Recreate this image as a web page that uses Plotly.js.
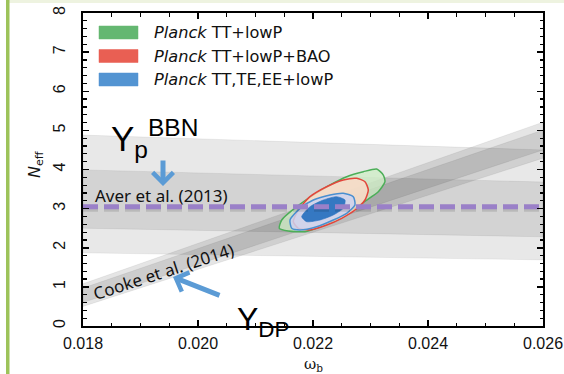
<!DOCTYPE html>
<html>
<head>
<meta charset="utf-8">
<script src="https://cdn.plot.ly/plotly-3.0.1.min.js"></script>
<style>
  html, body { margin: 0; padding: 0; background: #ffffff; }
  #chart { width: 564px; height: 374px; }
</style>
</head>
<body>
<div id="chart"></div>
<script>
// Baryon density range spanned by the band constraints
const bandW = [0.018, 0.026];

// Aver et al. (2013) helium constraint: N_eff edges at each end of bandW
const averOuterHi = [4.88, 4.50];
const averOuterLo = [1.87, 1.69];
const averInnerHi = [3.99, 3.68];
const averInnerLo = [2.50, 2.28];

// Cooke et al. (2014) deuterium constraint
const cookeOuterHi = [1.08, 5.21];
const cookeOuterLo = [0.50, 4.29];
const cookeInnerHi = [0.97, 5.01];
const cookeInnerLo = [0.60, 4.50];

// Planck contour outlines (omega_b, N_eff)
const greenOuterW = [0.021414, 0.021456, 0.021716, 0.022005, 0.022296, 0.022586, 0.022875, 0.023108, 0.023223, 0.023252, 0.023136, 0.022934, 0.022673, 0.022383, 0.022122, 0.021861, 0.021570];
const greenOuterN = [2.497, 2.709, 3.049, 3.348, 3.604, 3.816, 3.944, 4.013, 3.859, 3.688, 3.433, 3.220, 2.965, 2.709, 2.538, 2.410, 2.428];

const redOuterW = [0.021657, 0.021744, 0.021948, 0.022238, 0.022527, 0.022760, 0.022904, 0.022962, 0.022904, 0.022730, 0.022499, 0.022238, 0.021948, 0.021744];
const redOuterN = [2.666, 2.965, 3.305, 3.560, 3.732, 3.775, 3.688, 3.476, 3.220, 2.965, 2.753, 2.581, 2.454, 2.497];

const blueOuterW = [0.021600, 0.021774, 0.022005, 0.022296, 0.022527, 0.022701, 0.022730, 0.022586, 0.022353, 0.022064, 0.021774, 0.021630];
const blueOuterN = [2.709, 3.008, 3.220, 3.348, 3.392, 3.305, 3.093, 2.881, 2.709, 2.538, 2.454, 2.497];

const blueInnerW = [0.021803, 0.021948, 0.022179, 0.022412, 0.022557, 0.022527, 0.022353, 0.022122, 0.021890];
const blueInnerN = [2.794, 3.049, 3.220, 3.305, 3.220, 3.008, 2.837, 2.709, 2.666];

// Standard-model value of N_eff
const nEffStandard = 3.046;

// Axis ticks
const xTickVals = [0.018, 0.020, 0.022, 0.024, 0.026];
const xTickText = ['0.018', '0.020', '0.022', '0.024', '0.026'];
const yTickVals = [0, 1, 2, 3, 4, 5, 6, 7, 8];

// Legend entries
const legendLabels = ['TT+lowP', 'TT+lowP+BAO', 'TT,TE,EE+lowP'];
const legendColors = ['#5cb46a', '#e8574a', '#4a8fd0'];

function band(hi, lo, fill) {
  return {
    type: 'scatter', mode: 'lines',
    x: [bandW[0], bandW[1], bandW[1], bandW[0], bandW[0]],
    y: [hi[0], hi[1], lo[1], lo[0], hi[0]],
    fill: 'toself', fillcolor: fill,
    line: { color: 'rgba(0,0,0,0.06)', width: 1 },
    hoverinfo: 'skip', showlegend: false
  };
}

function contour(w, n, fill, lineColor, lineWidth) {
  return {
    type: 'scatter', mode: 'lines',
    x: w.concat([w[0]]), y: n.concat([n[0]]),
    fill: 'toself', fillcolor: fill,
    line: { color: lineColor, width: lineWidth, shape: 'spline', smoothing: 0.6 },
    hoverinfo: 'skip', showlegend: false
  };
}

const traces = [
  band(averOuterHi, averOuterLo, 'rgba(0,0,0,0.09)'),
  band(averInnerHi, averInnerLo, 'rgba(0,0,0,0.09)'),
  band(cookeOuterHi, cookeOuterLo, 'rgba(0,0,0,0.10)'),
  band(cookeInnerHi, cookeInnerLo, 'rgba(0,0,0,0.10)'),
  contour(greenOuterW, greenOuterN, 'rgba(205,238,196,0.75)', '#4cae58', 1.5),
  contour(redOuterW, redOuterN, 'rgba(252,218,200,0.8)', '#e2463c', 1.5),
  contour(blueOuterW, blueOuterN, 'rgba(204,210,240,0.85)', '#4a8fd0', 1.5),
  contour(blueInnerW, blueInnerN, 'rgba(44,115,192,0.95)', 'rgba(44,115,192,0.6)', 1),
  {
    type: 'scatter', mode: 'lines',
    x: bandW, y: [nEffStandard - 0.05, nEffStandard - 0.05],
    line: { color: 'rgba(0,0,0,0.12)', width: 6, dash: '15px,6px' },
    hoverinfo: 'skip', showlegend: false
  },
  {
    type: 'scatter', mode: 'lines',
    x: bandW, y: [nEffStandard, nEffStandard],
    line: { color: '#9a80c8', width: 5, dash: '15px,6px' },
    hoverinfo: 'skip', showlegend: false
  }
];

// Plot-area geometry in pixels, used to place the hand-drawn legend and labels
const L = 83, T = 13, W = 460, H = 313;
const px = v => (v - L) / W;
const py = v => (T + H - v) / H;

const shapes = [
  // slide frame
  { type: 'rect', xref: 'paper', yref: 'paper', x0: px(9), x1: px(564), y0: py(3), y1: py(0),
    fillcolor: '#eef3e0', line: { width: 0 }, layer: 'below' },
  { type: 'rect', xref: 'paper', yref: 'paper', x0: px(6), x1: px(9.5), y0: py(374), y1: py(0),
    fillcolor: '#9dc35a', line: { width: 0 }, layer: 'below' }
];
const annotations = [];
const rowY = [32.5, 56, 79.5];
legendLabels.forEach((lab, i) => {
  shapes.push({ type: 'rect', xref: 'paper', yref: 'paper',
    x0: px(99), x1: px(138), y0: py(rowY[i] + 6.5), y1: py(rowY[i] - 6.5),
    fillcolor: legendColors[i], line: { color: legendColors[i], width: 0.5 }, opacity: 0.95 });
  annotations.push({ xref: 'paper', yref: 'paper', x: px(152), y: py(rowY[i]),
    xanchor: 'left', yanchor: 'middle', showarrow: false,
    text: '<i>Planck</i> ' + lab,
    font: { family: 'DejaVu Sans', size: 16.2, color: '#111' } });
});

annotations.push(
  { xref: 'paper', yref: 'paper', x: px(93), y: py(196), xanchor: 'left', yanchor: 'middle',
    showarrow: false, text: 'Aver et al. (2013)',
    font: { family: 'Noto Sans', size: 17, color: '#111' } },
  { xref: 'paper', yref: 'paper', x: px(163), y: py(271), xanchor: 'center', yanchor: 'middle',
    showarrow: false, text: 'Cooke et al. (2014)', textangle: -18,
    font: { family: 'Noto Sans', size: 17, color: '#111' } },
  { xref: 'paper', yref: 'paper', x: px(109), y: py(138), xanchor: 'left', yanchor: 'middle',
    showarrow: false, text: 'Y<sub>p</sub><sup>BBN</sup>',
    font: { family: 'Liberation Sans', size: 35, color: '#000' } },
  { xref: 'paper', yref: 'paper', x: px(235), y: py(321), xanchor: 'left', yanchor: 'middle',
    showarrow: false, text: 'Y<sub>DP</sub>',
    font: { family: 'Liberation Sans', size: 32, color: '#000' } },
  // arrows
  { xref: 'paper', yref: 'paper', x: px(163), y: py(186), ax: 0, ay: -27,
    showarrow: true, arrowhead: 4, arrowsize: 0.8, arrowwidth: 5, arrowcolor: '#5b9bd5', text: '' },
  { xref: 'paper', yref: 'paper', x: px(173), y: py(277), ax: 48, ay: 19,
    showarrow: true, arrowhead: 4, arrowsize: 0.8, arrowwidth: 5, arrowcolor: '#5b9bd5', text: '' },
  // axis titles
  { xref: 'paper', yref: 'paper', x: px(35), y: py(165), xanchor: 'center', yanchor: 'middle',
    showarrow: false, textangle: -90, text: '<i>N</i><sub>eff</sub>',
    font: { family: 'DejaVu Sans', size: 16, color: '#111' } },
  { xref: 'paper', yref: 'paper', x: px(313), y: py(364), xanchor: 'center', yanchor: 'middle',
    showarrow: false, text: 'ω<sub>b</sub>',
    font: { family: 'DejaVu Serif', size: 15, color: '#111' } }
);

const axisCommon = {
  showline: true, linecolor: '#000', linewidth: 2, mirror: 'allticks',
  ticks: 'inside', ticklen: 6, tickwidth: 1.5, tickcolor: '#000',
  showgrid: false, zeroline: false,
  tickfont: { family: 'Liberation Sans', size: 16, color: '#111' }
};

const layout = {
  width: 564, height: 374,
  margin: { l: L, r: 564 - L - W, t: T, b: 374 - T - H },
  paper_bgcolor: '#ffffff', plot_bgcolor: '#ffffff',
  showlegend: false,
  xaxis: Object.assign({}, axisCommon, {
    range: [0.018, 0.026], tickmode: 'array', tickvals: xTickVals, ticktext: xTickText,
    ticklabelstandoff: 2,
    minor: { dtick: 0.0005, tick0: 0.018, ticks: 'inside', ticklen: 3.5, tickwidth: 1.2, tickcolor: '#000' }
  }),
  yaxis: Object.assign({}, axisCommon, {
    range: [0, 8], tickmode: 'array', tickvals: yTickVals, tickangle: -90,
    ticklabelstandoff: 10,
    minor: { dtick: 0.2, tick0: 0, ticks: 'inside', ticklen: 3.5, tickwidth: 1.2, tickcolor: '#000' }
  }),
  shapes: shapes,
  annotations: annotations
};

Plotly.newPlot('chart', traces, layout, { staticPlot: true, displayModeBar: false });
</script>
</body>
</html>
